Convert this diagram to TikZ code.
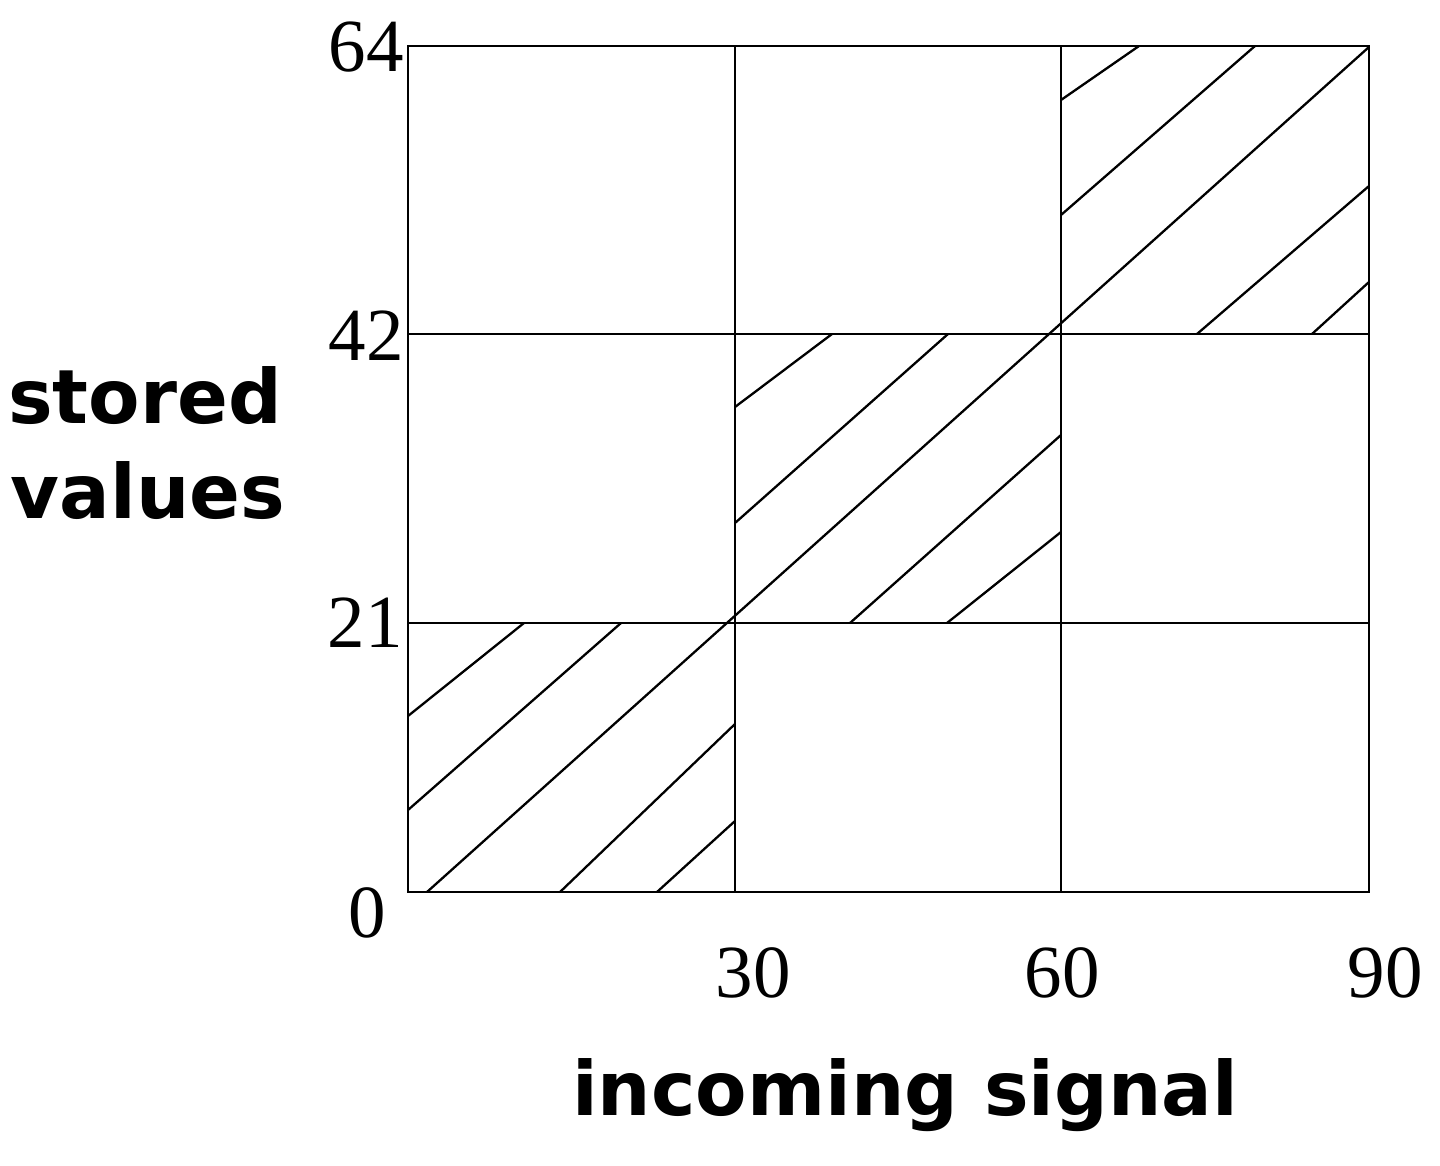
\documentclass[tikz,border=0pt]{standalone}
\usepackage{fontspec}
\setmainfont{Liberation Serif}
\newfontfamily\boldsans{DejaVu Sans}
\begin{document}
\begin{tikzpicture}[x=0.5pt,y=-0.5pt,
  gridline/.style={line width=1.25pt,black},
  hatch/.style={line width=1.15pt,black},
  ticklabel/.style={inner sep=0pt,font=\fontsize{37.5}{37.5}\selectfont},
  axislabel/.style={inner sep=0pt,font=\boldsans\bfseries\fontsize{37.5}{37.5}\selectfont}]
\useasboundingbox (0,0) rectangle (1440,1166);
% grid
\draw[gridline] (408,46) rectangle (1369,892);
\draw[gridline] (735,46) -- (735,892);
\draw[gridline] (1061,46) -- (1061,892);
\draw[gridline] (408,334) -- (1369,334);
\draw[gridline] (408,623) -- (1369,623);
% hatching, lower-left cell
\draw[hatch] (408,716) -- (524,623);
\draw[hatch] (408,810) -- (621,623);
\draw[hatch] (560,892) -- (735,724);
\draw[hatch] (657,892) -- (735,821);
% hatching, middle cell
\draw[hatch] (735,407) -- (832,334);
\draw[hatch] (735,523) -- (948,334);
\draw[hatch] (850,623) -- (1061,435);
\draw[hatch] (947,623) -- (1061,532);
% hatching, upper-right cell
\draw[hatch] (1061,100) -- (1139,46);
\draw[hatch] (1061,215) -- (1255,46);
\draw[hatch] (1197,334) -- (1369,186);
\draw[hatch] (1312,334) -- (1369,282);
% main diagonal
\draw[hatch] (427,892) -- (1369,47);
% tick labels
\node[ticklabel,anchor=base east] (y64) at (404,72) {64};
\node[ticklabel,anchor=base east] (y42) at (404,360) {42};
\node[ticklabel,anchor=base east] (y21) at (403,647) {21};
\node[ticklabel,anchor=base] (y0) at (367,937) {0};
\node[ticklabel,anchor=base] (x30) at (753,997) {30};
\node[ticklabel,anchor=base] (x60) at (1062,997) {60};
\node[ticklabel,anchor=base] (x90) at (1385,997) {90};
% axis labels
\node[axislabel,anchor=base] (stored) at (145,423) {stored};
\node[axislabel,anchor=base] (values) at (148,518) {values};
\node[axislabel,anchor=base] (incoming) at (905,1115) {incoming signal};
\end{tikzpicture}
\end{document}
